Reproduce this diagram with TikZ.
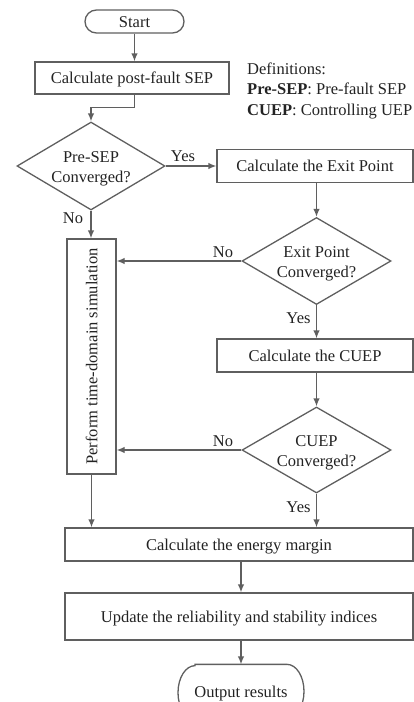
\documentclass[tikz,border=0pt]{standalone}
\usepackage{fontspec}
\setmainfont{Liberation Serif}
\usetikzlibrary{shapes.geometric,arrows.meta}
\definecolor{ln}{RGB}{95,95,95}
\definecolor{tx}{RGB}{35,35,35}
\begin{document}
\begin{tikzpicture}[x=1pt,y=-1pt,
  every node/.style={font=\fontsize{16.5}{20}\selectfont, text=tx},
  box/.style={draw=ln, line width=1.3pt, rectangle, inner sep=0pt, align=center, text height=11pt, text depth=0pt},
  term/.style={draw=ln, line width=1.3pt, rectangle, inner sep=0pt, text height=11pt, text depth=0pt},
  dec/.style={draw=ln, line width=1.3pt, diamond, aspect=1.7, inner sep=0pt},
  arr/.style={draw=ln, line width=1.3pt, -{Latex[length=8pt,width=6.5pt]}},
  lbl/.style={inner sep=0pt, align=center}
]
\useasboundingbox (0,0) rectangle (414,702);

\node[term, rounded corners=11.5pt, minimum width=99pt, minimum height=23pt] (start) at (134.5,21.5) {Start};
\node[box, minimum width=194pt, minimum height=32pt] (sep) at (132,78) {Calculate post-fault SEP};
\node[dec, minimum width=148pt, minimum height=88pt] (d1) at (91,166) {};
\node[lbl] (d1t) at (91,169) {Pre-SEP\\Converged?};
\node[box, minimum width=196pt, minimum height=33pt] (exit) at (315,166) {Calculate the Exit Point};
\node[dec, minimum width=149pt, minimum height=87pt] (d2) at (316.5,261) {};
\node[lbl] (d2t) at (316.5,263.5) {Exit Point\\Converged?};
\node[box, minimum width=196pt, minimum height=33pt] (cuep) at (315,355.5) {Calculate the CUEP};
\node[dec, minimum width=149pt, minimum height=86pt] (d3) at (316.5,450) {};
\node[lbl] (d3t) at (316.5,452.5) {CUEP\\Converged?};
\node[draw=ln, line width=1.3pt, rectangle, inner sep=0pt, minimum width=49pt, minimum height=235pt] (sim) at (91.5,356.5) {};
\node[lbl, rotate=90, anchor=base] (simt) at (97.3,356.5) {Perform time-domain simulation};
\node[box, minimum width=348pt, minimum height=33pt] (energy) at (239,544.5) {Calculate the energy margin};
\node[box, minimum width=348pt, minimum height=47pt] (upd) at (239,616.5) {Update the reliability and stability indices};
\node[term, draw=none, minimum width=126pt, minimum height=54pt] (out) at (241,692) {Output results};
\draw[ln, line width=1.3pt] ([xshift=-46pt]out.north) -- ([xshift=46pt]out.north)
  arc[start angle=90, end angle=-90, x radius=17pt, y radius=27pt]
  -- ([xshift=-46pt]out.south)
  arc[start angle=270, end angle=90, x radius=17pt, y radius=27pt] -- cycle;

\node[lbl, anchor=base west] (def1) at (247,74) {Definitions:};
\node[lbl, anchor=base west] (def2) at (247,94.5) {\textbf{Pre-SEP}: Pre-fault SEP};
\node[lbl, anchor=base west] (def3) at (247,115) {\textbf{CUEP}: Controlling UEP};

\node[lbl] (yes1) at (183,156) {Yes};
\node[lbl] (no1) at (73,218) {No};
\node[lbl] (no2) at (223,252) {No};
\node[lbl] (yes2) at (298.5,318) {Yes};
\node[lbl] (no3) at (223,441) {No};
\node[lbl] (yes3) at (298.5,507) {Yes};

\draw[arr] (start.south) -- (start.south |- sep.north);
\draw[arr] (sep.south -| start.south) -- ++(0,13) -| (d1.north);
\draw[arr] (d1.east) -- (exit.west);
\draw[arr] (d1.south) -- (d1.south |- sim.north);
\draw[arr] (exit.south -| d2.north) -- (d2.north);
\draw[arr] (d2.west) -- (d2.west -| sim.east);
\draw[arr] (d2.south) -- (d2.south |- cuep.north);
\draw[arr] (cuep.south -| d3.north) -- (d3.north);
\draw[arr] (d3.west) -- (d3.west -| sim.east);
\draw[arr] (sim.south) -- (sim.south |- energy.north);
\draw[arr] (d3.south) -- (d3.south |- energy.north);
\draw[arr] (energy.south -| out.north) -- (upd.north -| out.north);
\draw[arr] (upd.south -| out.north) -- (out.north);
\end{tikzpicture}
\end{document}
